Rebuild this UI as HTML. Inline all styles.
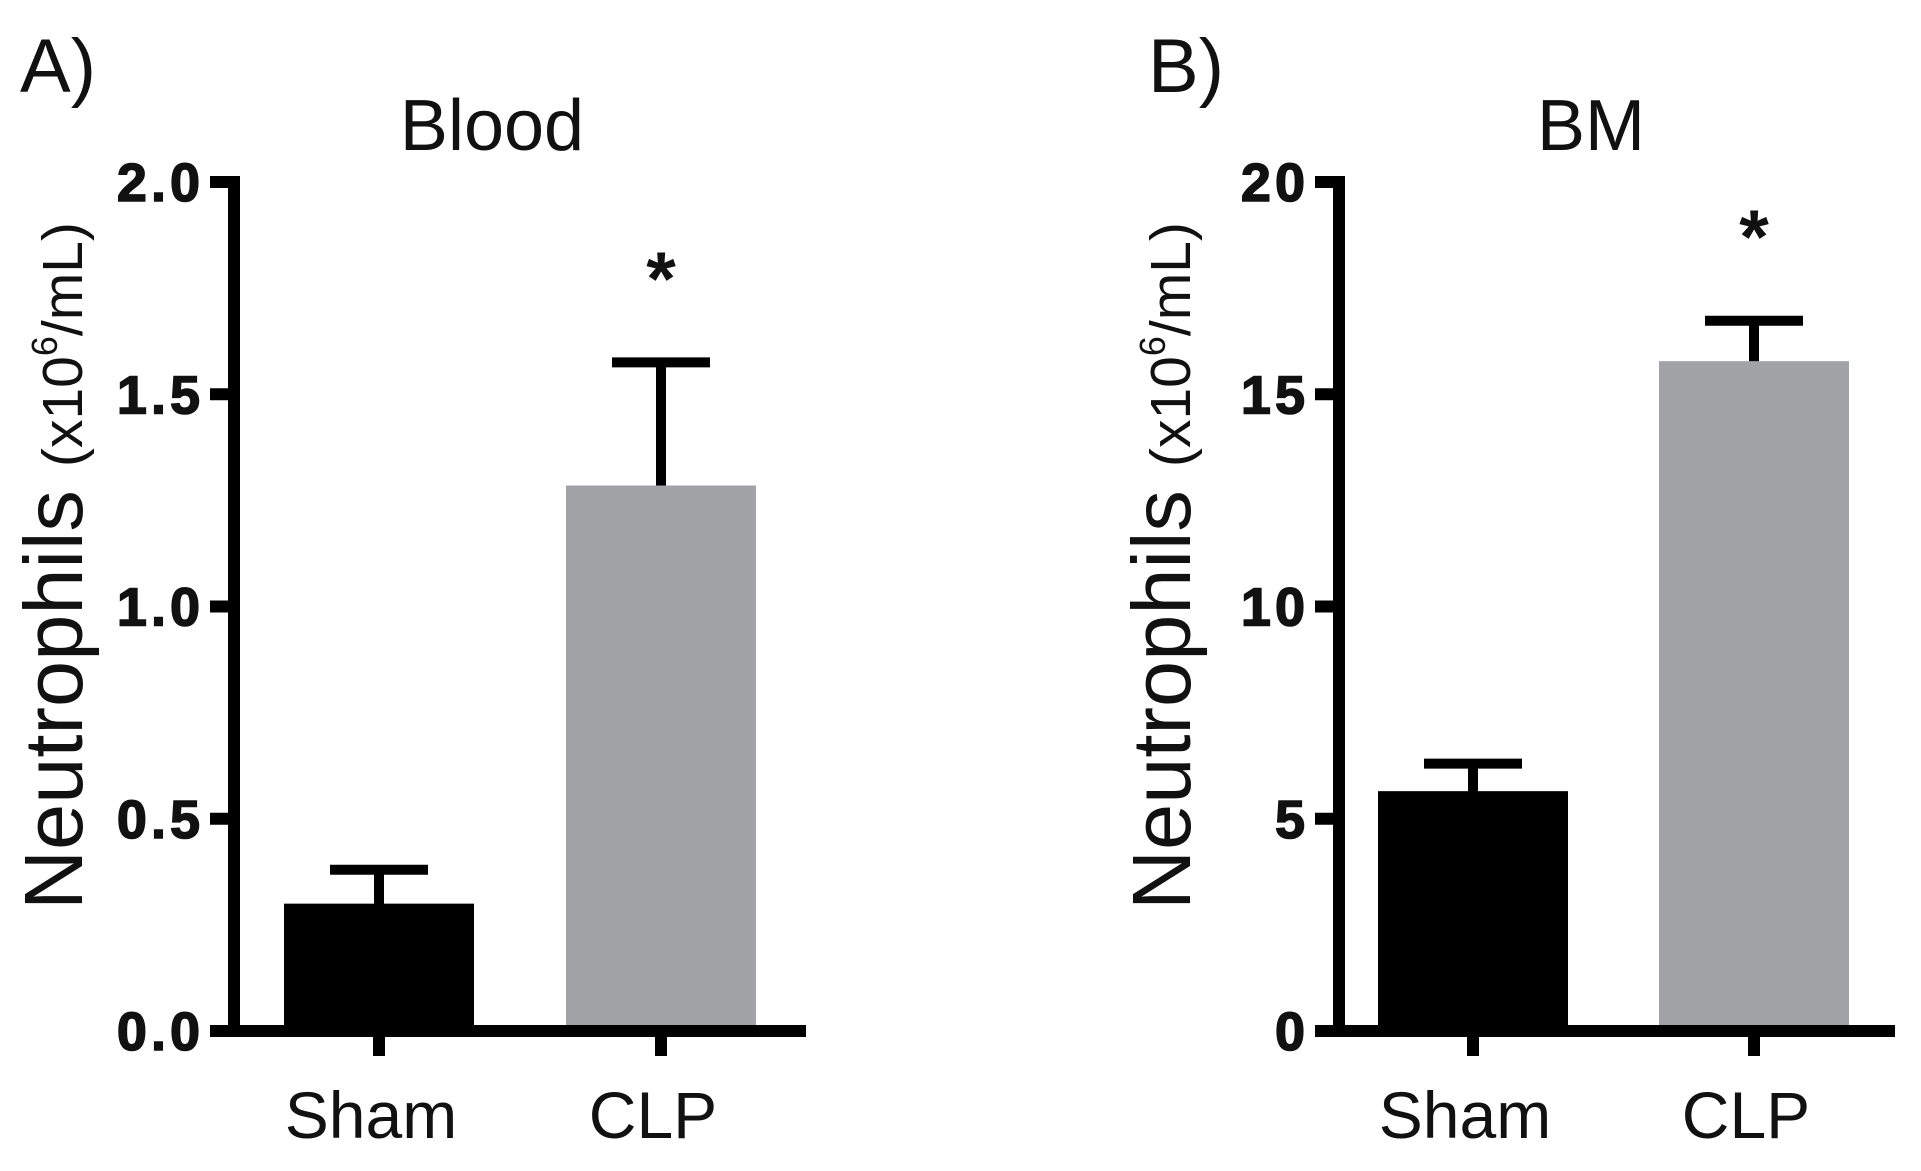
<!DOCTYPE html>
<html><head><meta charset="utf-8"><style>
html,body{margin:0;padding:0;background:#fff;}
svg{display:block;font-family:"Liberation Sans",Arial,sans-serif;}
</style></head><body>
<svg id="fig" width="1921" height="1171" viewBox="0 0 1921 1171" xmlns="http://www.w3.org/2000/svg"></svg>
<script>
const categories = ["Sham", "CLP"];
const bloodValues = [0.30, 1.285];
const bloodErrors = [0.08, 0.29];
const bloodTicks = ["0.0", "0.5", "1.0", "1.5", "2.0"];
const bmValues = [5.65, 15.78];
const bmErrors = [0.65, 0.95];
const bmTicks = ["0", "5", "10", "15", "20"];

const svg = document.getElementById('fig');
const NS = 'http://www.w3.org/2000/svg';
function mk(tag, attrs, parent) {
  const e = document.createElementNS(NS, tag);
  for (const k in attrs) e.setAttribute(k, attrs[k]);
  (parent || svg).appendChild(e);
  return e;
}

function panel(cfg) {
  const g = mk('g', {});
  
  
  const y0 = 1031, y1 = 182;
  const yScale = v => y0 - (v / cfg.max) * (y0 - y1);
  const ax = cfg.axisX;
  const letter = mk('text', {x: cfg.letterX, y: 92, 'font-size': 76, fill: '#111'}, g);
  letter.textContent = cfg.letter;
  
  
  const t = mk('text', {x: cfg.titleX, y: 150, 'font-size': 72, 'text-anchor': 'middle', fill: '#111'}, g);
  t.textContent = cfg.title;
  
  
  const yt = mk('text', {transform: `translate(${cfg.yTitleX},${566}) rotate(-90)`, 'font-size': 83, 'text-anchor': 'middle', fill: '#111'}, g);
  
  
  const s1 = mk('tspan', {}, yt); s1.textContent = 'Neutrophils ';
  const s2 = mk('tspan', {'font-size': 57}, yt); s2.textContent = '(x10';
  const s3 = mk('tspan', {'font-size': 36, dy: -25}, yt); s3.textContent = '6';
  const s4 = mk('tspan', {'font-size': 57, dy: 25}, yt); s4.textContent = '/mL)';
  categories.forEach((c, i) => {
    const cx = cfg.barCenters[i];
    const v = cfg.values[i], e = cfg.errors[i];
    const bw = 190;
    const top = yScale(v);
    const eTop = yScale(v + e);
    const ln = mk('line', {x1: cx, x2: cx, y1: top + 2, y2: eTop, stroke: '#000', 'stroke-width': 10}, g);
    
    
    const cap = mk('line', {x1: cx - 49, x2: cx + 49, y1: eTop, y2: eTop, stroke: '#000', 'stroke-width': 10}, g);
    
    
    const r = mk('rect', {x: cx - bw / 2, y: top, width: bw, height: y0 - top, fill: i === 0 ? '#000' : '#a2a3a7'}, g);
    
    
    const tk = mk('line', {x1: cx, x2: cx, y1: y0, y2: 1056, stroke: '#000', 'stroke-width': 12}, g);
    
    
    const lab = mk('text', {x: cx - 8, y: 1138, 'font-size': 66, 'text-anchor': 'middle', fill: '#111'}, g);
    lab.textContent = c;
    
    
  });
  const ast = mk('text', {x: cfg.barCenters[1], y: cfg.astY, 'font-size': 76, 'font-weight': 'bold', 'text-anchor': 'middle', fill: '#111'}, g);
  ast.textContent = '*';
  
  
  cfg.ticks.forEach((lbl, i) => {
    const v = i * cfg.max / (cfg.ticks.length - 1);
    const y = yScale(v);
    const tk = mk('line', {x1: ax - 24, x2: ax, y1: y, y2: y, stroke: '#000', 'stroke-width': 12}, g);
    
    
    const tl = mk('text', {x: ax - 30, y: y + 19, 'font-size': 54, 'font-weight': 'bold', 'letter-spacing': 4, stroke: '#111', 'stroke-width': 1.5, 'text-anchor': 'end', fill: '#111'}, g);
    tl.textContent = lbl;
    
    
  });
  const ya = mk('line', {x1: ax, x2: ax, y1: y1 - 6, y2: y0 + 6, stroke: '#000', 'stroke-width': 12}, g);
  
  
  const xa = mk('line', {x1: ax - 6, x2: cfg.xEnd, y1: y0, y2: y0, stroke: '#000', 'stroke-width': 12}, g);
  
  
}

panel({name: 'panel-blood', letter: 'A)', letterX: 20, title: 'Blood', titleX: 492, yTitleX: 82,
  axisX: 234, xEnd: 806, barCenters: [379, 661], values: bloodValues, errors: bloodErrors,
  ticks: bloodTicks, max: 2.0, astY: 305});
panel({name: 'panel-bm', letter: 'B)', letterX: 1148, title: 'BM', titleX: 1591, yTitleX: 1190,
  axisX: 1339, xEnd: 1895, barCenters: [1473, 1754], values: bmValues, errors: bmErrors,
  ticks: bmTicks, max: 20, astY: 263});
</script>
</body></html>
